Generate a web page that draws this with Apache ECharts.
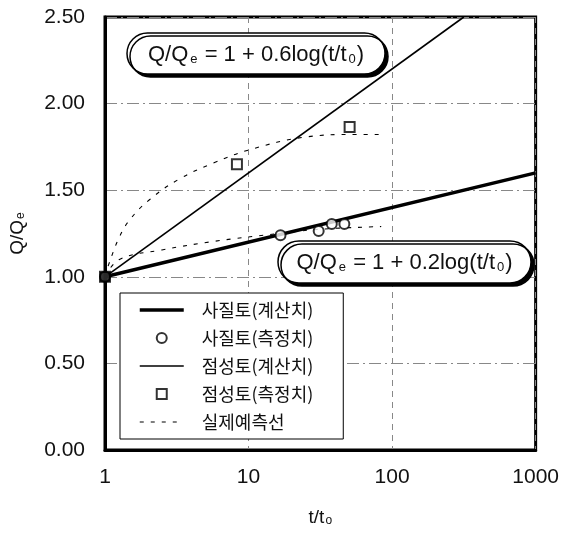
<!DOCTYPE html>
<html>
<head>
<meta charset="utf-8">
<script src="https://cdn.jsdelivr.net/npm/echarts@6/dist/echarts.min.js"></script>
<style>
html,body{margin:0;padding:0;background:#fff;}
#chart{width:562px;height:535px;}
</style>
</head>
<body>
<div id="chart"></div>
<script>
// ---- data ----
var xTicks = [1, 10, 100, 1000];
var yTicks = [0, 0.5, 1.0, 1.5, 2.0, 2.5];
var seriesNames = ['사질토(계산치)', '사질토(측정치)', '점성토(계산치)', '점성토(측정치)', '실제예측선'];
var sandCalc = [[1, 1.0], [1000, 1.6]];
var sandMeas = [[1, 1.0], [16.7, 1.24], [30.8, 1.265], [38, 1.305], [46.5, 1.305]];
var clayCalc = [[1, 1.0], [316, 2.5]];
var clayMeas = [[1, 1.0], [8.3, 1.65], [50.6, 1.865]];
var predUpper = [[1, 1.0], [1.06, 1.07], [1.26, 1.23], [1.49, 1.33], [2.04, 1.445], [3.3, 1.565], [5.8, 1.66], [10.3, 1.735], [24, 1.805], [56.7, 1.822], [84, 1.822]];
var predLower = [[1, 1.0], [1.26, 1.10], [2.49, 1.155], [5.8, 1.205], [16.2, 1.25], [32, 1.275], [84, 1.29]];
var eqClay = 'Q/Q{s|e} = 1 + 0.6log(t/t{s|0})';
var eqSand = 'Q/Q{s|e} = 1 + 0.2log(t/t{s|0})';

var FONT = '"Liberation Sans", Arial, Helvetica, sans-serif';
var KFONT = '"Noto Sans CJK KR", "Noto Sans", sans-serif';

var chart = echarts.init(document.getElementById('chart'), null, {renderer: 'canvas'});

function eqBox(x, y, w, h, text) {
  return {
    type: 'group',
    children: [
      {type: 'rect', shape: {x: x, y: y, width: w, height: h, r: h / 2},
       style: {fill: '#fff', stroke: '#000', lineWidth: 1.5, shadowColor: '#000', shadowOffsetX: 3, shadowOffsetY: 3, shadowBlur: 0}, z: 10},
      {type: 'text', x: x + w / 2, y: y + h / 2 + 1, z: 11,
       style: {text: text, font: '22px ' + FONT, fill: '#111', align: 'center', verticalAlign: 'middle',
               rich: {s: {fontSize: 13, fontFamily: FONT, verticalAlign: 'bottom', padding: [0, 1, 0, 2]}}}}
    ]
  };
}

var noSymbol = {color: 'rgba(0,0,0,0)', borderWidth: 0, opacity: 0};
var hollow = {color: '#fff', borderColor: '#000', borderWidth: 2};

var option = {
  backgroundColor: '#fff',
  animation: false,
  grid: {left: 104, right: 22, top: 17, bottom: 85, show: true, borderColor: '#000', borderWidth: 3, backgroundColor: 'transparent'},
  xAxis: {
    type: 'log', logBase: 10, min: xTicks[0], max: xTicks[xTicks.length - 1],
    name: 't/t{s|o}', nameLocation: 'middle', nameGap: 58,
    nameTextStyle: {fontSize: 19, fontFamily: FONT, color: '#111', rich: {s: {fontSize: 12, verticalAlign: 'bottom', padding: [0,0,0,1]}}},
    axisLine: {show: true, lineStyle: {color: '#000', width: 3}},
    axisTick: {show: false},
    axisLabel: {fontSize: 21, fontFamily: FONT, color: '#111', margin: 17, formatter: function (v) { return String(Math.round(v)); }},
    splitLine: {show: true, lineStyle: {color: '#888', width: 1, type: [6, 5]}}
  },
  yAxis: {
    type: 'value', min: yTicks[0], max: yTicks[yTicks.length - 1], interval: 0.5,
    name: 'Q/Q{s|e}', nameLocation: 'middle', nameGap: 78, nameRotate: 90,
    nameTextStyle: {fontSize: 19, fontFamily: FONT, color: '#111', rich: {s: {fontSize: 12, verticalAlign: 'bottom', padding: [0,0,0,1]}}},
    axisLine: {show: true, lineStyle: {color: '#000', width: 3}},
    axisTick: {show: false},
    axisLabel: {fontSize: 21, fontFamily: FONT, color: '#111', margin: 20, formatter: function (v) { return v.toFixed(2); }},
    splitLine: {show: true, lineStyle: {color: '#888', width: 1, type: [12, 4, 2, 4]}}
  },
  legend: {
    orient: 'vertical', left: 120, top: 293,
    padding: [8, 30, 8, 18],
    backgroundColor: '#fff', borderColor: '#000', borderWidth: 1,
    itemWidth: 44, itemHeight: 10, itemGap: 10,
    textStyle: {fontSize: 18, fontFamily: KFONT, color: '#111', lineHeight: 18, padding: [0, 0, 0, 13]},
    data: [
      {name: seriesNames[0], itemStyle: noSymbol, lineStyle: {color: '#000', width: 3.5}},
      {name: seriesNames[1], icon: 'circle', itemStyle: hollow},
      {name: seriesNames[2], itemStyle: noSymbol, lineStyle: {color: '#000', width: 1.6}},
      {name: seriesNames[3], icon: 'path://M0 0H10V10H0Z', itemStyle: hollow},
      {name: seriesNames[4], itemStyle: noSymbol, lineStyle: {color: '#000', width: 1.1, type: [4, 7]}}
    ],
    z: 20
  },
  series: [
    {name: seriesNames[0], type: 'line', data: sandCalc, symbol: 'none', itemStyle: {color: '#000'}, lineStyle: {color: '#000', width: 3.5}, z: 5},
    {name: seriesNames[1], type: 'scatter', data: sandMeas, symbol: 'circle', symbolSize: 10, itemStyle: hollow, z: 6},
    {name: seriesNames[2], type: 'line', data: clayCalc, symbol: 'none', itemStyle: {color: '#000'}, lineStyle: {color: '#000', width: 1.6}, z: 5},
    {name: seriesNames[3], type: 'scatter', symbol: 'rect', symbolSize: 10, itemStyle: hollow, z: 6,
     data: clayMeas.map(function (p, i) { return i === 0 ? {value: p, itemStyle: {color: '#000'}} : p; })},
    {name: seriesNames[4], type: 'line', data: predUpper, smooth: 0.4, symbol: 'none', itemStyle: {color: '#000'}, lineStyle: {color: '#000', width: 1.1, type: [4, 7]}, z: 4},
    {name: seriesNames[4], type: 'line', data: predLower, smooth: 0.4, symbol: 'none', itemStyle: {color: '#000'}, lineStyle: {color: '#000', width: 1.1, type: [4, 7]}, z: 4}
  ],
  graphic: [
    eqBox(127, 33, 258, 41, eqClay),
    eqBox(278, 241, 253, 42, eqSand)
  ]
};
chart.setOption(option);
</script>
</body>
</html>
